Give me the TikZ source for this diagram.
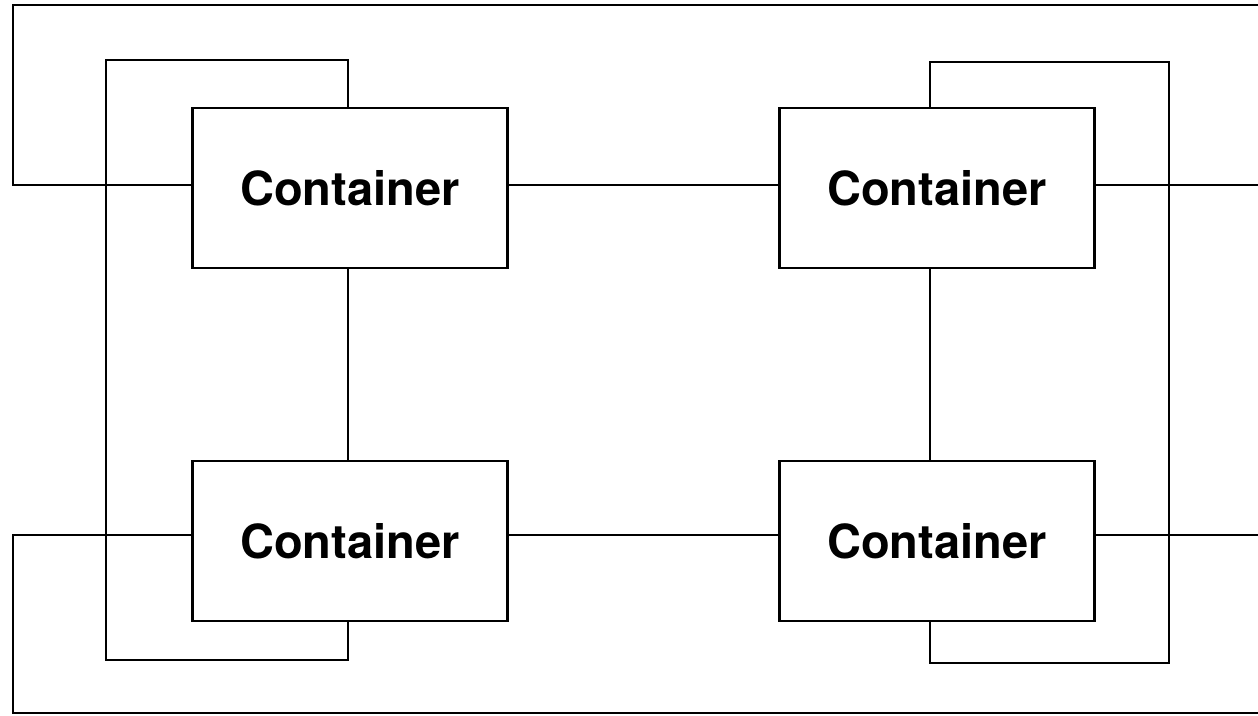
\documentclass[tikz,border=0pt]{standalone}
\usepackage{fontspec}
\setmainfont{TeX Gyre Heros}
\begin{document}
\begin{tikzpicture}[x=1pt,y=-1pt,line width=2.6pt,
  cbox/.style={draw,fill=white,minimum width=315pt,minimum height=160pt,inner sep=0pt,
    font=\fontsize{47}{50}\selectfont\bfseries}]
\useasboundingbox (0,0) rectangle (1258,715);
\node[cbox] (TL) at (350,188) {Container};
\node[cbox] (TR) at (937,188) {Container};
\node[cbox] (BL) at (350,541) {Container};
\node[cbox] (BR) at (937,541) {Container};
\coordinate (rowA) at (0,185);
\coordinate (rowB) at (0,535);
\coordinate (colA) at (348,0);
\coordinate (colB) at (930,0);
\coordinate (edgeTop) at (1258,5);
\coordinate (edgeA) at (1258,185);
\coordinate (edgeB) at (1258,535);
\coordinate (edgeBot) at (1258,713);
% outer top loop
\draw (TL.west |- rowA) -| (13,5) -- (edgeTop);
% left inner loop
\draw (colA |- TL.north) |- (106,60) -- (106,660) -| (colA |- BL.south);
\draw (colA |- TL.south) -- (colA |- BL.north);
\draw (TL.east |- rowA) -- (TR.west |- rowA);
\draw (TR.east |- rowA) -- (edgeA);
% right inner loop
\draw (colB |- TR.north) |- (1169,62) -- (1169,663) -| (colB |- BR.south);
\draw (colB |- TR.south) -- (colB |- BR.north);
\draw (BL.east |- rowB) -- (BR.west |- rowB);
\draw (BR.east |- rowB) -- (edgeB);
% outer bottom loop
\draw (BL.west |- rowB) -| (13,713) -- (edgeBot);
\end{tikzpicture}
\end{document}
